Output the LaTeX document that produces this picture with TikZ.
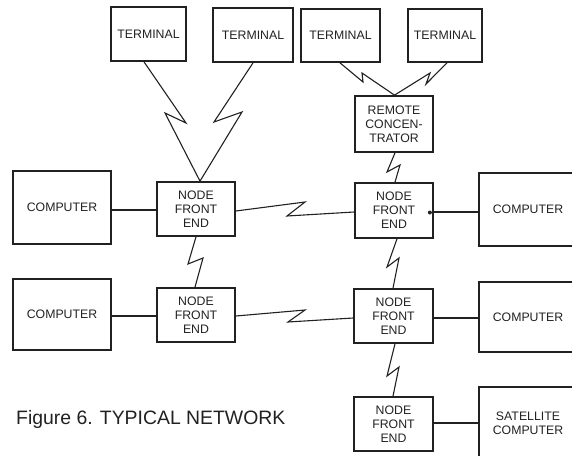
\documentclass[tikz,border=0pt]{standalone}
\usepackage{fontspec}
\setmainfont{Liberation Sans}
\usetikzlibrary{calc}
\definecolor{ink}{gray}{0.13}
\begin{document}
\begin{tikzpicture}[x=1pt,y=-1pt,
  box/.style={draw=ink,line width=1.7pt,inner sep=0pt,align=center,text=ink,
    font=\fontsize{12.3}{14}\selectfont},
  link/.style={draw=ink,line width=1.1pt,line join=miter}]
\useasboundingbox (0,0) rectangle (572,455);
% terminals
\node[box,minimum width=75pt,minimum height=54pt] (t1) at (148.5,34) {TERMINAL};
\node[box,minimum width=80pt,minimum height=54pt] (t2) at (253,35) {TERMINAL};
\node[box,minimum width=79pt,minimum height=53pt] (t3) at (340.5,35.5) {TERMINAL};
\node[box,minimum width=74pt,minimum height=53pt] (t4) at (445,35.5) {TERMINAL};
% concentrator
\node[box,minimum width=78pt,minimum height=56pt] (rc) at (394,124) {REMOTE\\CONCEN-\\TRATOR};
% node front ends
\node[box,minimum width=78pt,minimum height=54pt] (nfe1) at (196,209) {NODE\\FRONT\\END};
\node[box,minimum width=78pt,minimum height=55pt] (nfe2) at (394,210.5) {NODE\\FRONT\\END};
\node[box,minimum width=78pt,minimum height=54pt] (nfe3) at (196,315) {NODE\\FRONT\\END};
\node[box,minimum width=79pt,minimum height=54pt] (nfe4) at (393.5,316) {NODE\\FRONT\\END};
\node[box,minimum width=79pt,minimum height=54pt] (nfe5) at (393.5,424) {NODE\\FRONT\\END};
% computers
\node[box,minimum width=98pt,minimum height=73pt] (c1) at (62,207.5) {COMPUTER};
\node[box,minimum width=98pt,minimum height=71pt] (c2) at (62,314.5) {COMPUTER};
\node[box,minimum width=98pt,minimum height=73pt] (c3) at (528,209.5) {COMPUTER};
\node[box,minimum width=98pt,minimum height=70pt] (c4) at (528,317) {COMPUTER};
\node[box,minimum width=98pt,minimum height=73pt] (sat) at (528,423.5) {SATELLITE\\COMPUTER};
% caption
\node[anchor=west,inner sep=0pt,text=ink,font=\fontsize{19.4}{22}\selectfont] (cap) at (16,419) {Figure 6. TYPICAL NETWORK};
% lightning links
\draw[link] ([xshift=-4.5pt]t1.south) -- (186,123) -- (165,113) -- ([xshift=4pt]nfe1.north);
\draw[link] (t2.south) -- (214,122) -- (242,112) -- ([xshift=4pt]nfe1.north);
\draw[link] ([xshift=-0.5pt]t3.south) -- (363,82) -- (362,73) -- ([xshift=0.5pt]rc.north);
\draw[link] ([xshift=2pt]t4.south) -- (426,84) -- (430,73) -- ([xshift=0.5pt]rc.north);
\draw[link] ([xshift=1pt]rc.south) -- (387,172) -- (400,165) -- ([xshift=1pt]nfe2.north);
\draw[link] (nfe1.south) -- (188,264) -- (203,258) -- ([xshift=-1pt]nfe3.north);
\draw[link] ([xshift=3pt]nfe2.south) -- (387,267) -- (399,258) -- ([xshift=-0.5pt]nfe4.north);
\draw[link] ([xshift=1.5pt]nfe4.south) -- (387,376) -- (399,367) -- ([xshift=-0.5pt]nfe5.north);
\draw[link] ([yshift=-2pt]nfe1.east) -- (305,202) -- (287,216) -- ([yshift=-1.5pt]nfe2.west);
\draw[link] ([yshift=-1pt]nfe3.east) -- (305,310) -- (288,322) -- ([yshift=-2pt]nfe4.west);
% straight links
\draw[link] ([yshift=-1pt]nfe1.west) -- ([yshift=-1pt]nfe1.west -| c1.east);
\draw[link] ([yshift=-1pt]nfe3.west) -- ([yshift=-1pt]nfe3.west -| c2.east);
\draw[link] ([yshift=-1.5pt]nfe2.east) -- ([yshift=-1.5pt]nfe2.east -| c3.west);
\fill[ink] ([xshift=-4pt,yshift=-2pt]nfe2.east) circle (2pt);
\draw[link] ([yshift=-2pt]nfe4.east) -- ([yshift=-2pt]nfe4.east -| c4.west);
\draw[link] ([yshift=1pt]nfe5.east) -- ([yshift=1pt]nfe5.east -| sat.west);
\end{tikzpicture}
\end{document}
